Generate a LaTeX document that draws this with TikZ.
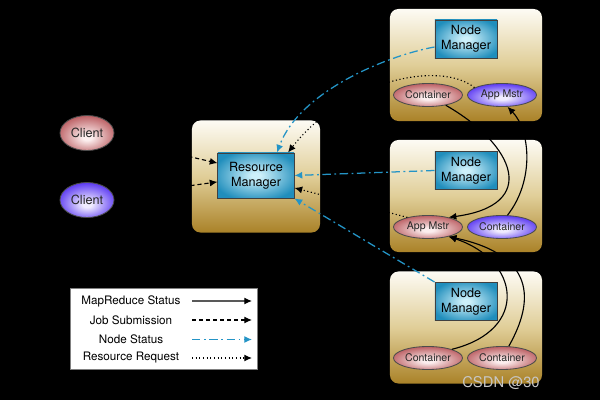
\documentclass[tikz,border=0pt]{standalone}
\usepackage{fontspec}
\setmainfont{TeX Gyre Heros}
\usetikzlibrary{shapes.geometric}
\usetikzlibrary{arrows.meta}

\definecolor{panelTop}{RGB}{253,251,244}
\definecolor{panelMid}{RGB}{224,206,152}
\definecolor{panelBot}{RGB}{170,130,40}
\definecolor{nmlight}{RGB}{205,240,250}
\definecolor{nmdark}{RGB}{32,142,188}
\definecolor{podred}{RGB}{188,96,100}
\definecolor{podredlight}{RGB}{252,238,238}
\definecolor{podviolet}{RGB}{92,58,242}
\definecolor{podvioletlight}{RGB}{240,236,255}
\definecolor{statusblue}{RGB}{36,148,198}

\pgfdeclareradialshading{nmshade}{\pgfpoint{0bp}{0bp}}{color(0bp)=(nmlight); color(3bp)=(nmlight); color(29bp)=(nmdark); color(50bp)=(nmdark)}
\pgfdeclareradialshading{redshade}{\pgfpoint{0bp}{-7bp}}{color(0bp)=(podredlight); color(4bp)=(podredlight); color(28bp)=(podred); color(50bp)=(podred)}
\pgfdeclareradialshading{violetshade}{\pgfpoint{0bp}{-7bp}}{color(0bp)=(podvioletlight); color(4bp)=(podvioletlight); color(28bp)=(podviolet); color(50bp)=(podviolet)}

\begin{document}
\begin{tikzpicture}[x=0.025cm, y=-0.025cm,
      bay/.style={rounded corners=6pt, minimum width=3.8cm, minimum height=2.8cm,
          top color=panelTop, bottom color=panelBot, middle color=panelMid},
      mgr/.style={draw=black!75, line width=0.7pt, shading=nmshade, align=center,
          minimum width=1.55cm, minimum height=0.95cm, inner sep=1pt,
          font=\fontsize{9}{10.5}\selectfont},
      pod/.style={ellipse, draw=black!70, line width=0.6pt, inner sep=0pt,
          minimum width=1.725cm, minimum height=0.575cm, text=black!85,
          font=\fontsize{7.5}{8}\selectfont},
      redpod/.style={pod, shading=redshade},
      violetpod/.style={pod, shading=violetshade},
      keytext/.style={font=\fontsize{8.3}{9}\selectfont},
      mrstat/.style={draw=black, line width=0.8pt, -{Latex[length=5.5pt,width=5pt,black]}},
      jobsub/.style={draw=black, line width=0.8pt, dash pattern=on 3pt off 2pt,
          -{Latex[length=5.5pt,width=5pt]}},
      nodestat/.style={draw=statusblue, line width=0.9pt,
          dash pattern=on 6pt off 2.5pt on 1.3pt off 2.5pt,
          -{Latex[length=5.5pt,width=5pt]}},
      resreq/.style={draw=black, line width=0.8pt, dash pattern=on 0.8pt off 1.8pt,
          -{Latex[length=5.5pt,width=5pt]}},
    ]
    \fill[black] (0,0) rectangle (600,400);

    \node[bay, minimum width=3.2cm] (rmbay) at (256,176.5) {};
    \node[bay] (bay1) at (466,65) {};
    \node[bay] (bay2) at (466,196) {};
    \node[bay] (bay3) at (466,327.5) {};

    \node[redpod, minimum width=1.35cm, minimum height=0.875cm,
        font=\fontsize{9}{10}\selectfont] (client1) at (87,133) {Client};
    \node[violetpod, minimum width=1.35cm, minimum height=0.875cm,
        font=\fontsize{9}{10}\selectfont] (client2) at (87,200) {Client};

    \node[mgr, minimum width=1.9cm, minimum height=1.125cm] (rm) at (256,175.5) {Resource\\Manager};

    \node[mgr] (nm1) at (466,39) {Node\\Manager};
    \node[redpod] (ct1) at (428,95) {Container};
    \node[violetpod] (am1) at (502,95) {App Mstr};

    \node[mgr] (nm2) at (466,170.5) {Node\\Manager};
    \node[redpod] (am2) at (428,227) {App Mstr};
    \node[violetpod] (ct2) at (502,227) {Container};

    \node[mgr] (nm3) at (466,301.5) {Node\\Manager};
    \node[redpod] (ct3a) at (428,358) {Container};
    \node[redpod] (ct3b) at (502,358) {Container};

    \draw[jobsub] (client1) -- ([yshift=0.31cm]rm.west);
    \draw[jobsub] (client2) -- ([yshift=-0.16cm]rm.west);

    \draw[nodestat] ([yshift=-0.2cm]nm1.west) .. controls (390,55) and (300,90) .. ([xshift=0.525cm]rm.north);
    \draw[nodestat] (nm2.west) -- (rm.east);
    \draw[nodestat] (nm3.north west) -- (rm.south east);

    \draw[resreq] (am1.165) .. controls (440,60) and (345,80) .. ([xshift=0.8cm]rm.north);
    \draw[resreq] (am2.155) -- ([yshift=-0.31cm]rm.east);

    \draw[mrstat] (ct1.-30) .. controls (515,145) and (540,205) .. (am2.25);
    \draw[mrstat] (ct2.65) .. controls (535,180) and (530,130) .. (am1.-65);
    \draw[mrstat] (ct3a.20) .. controls (530,330) and (520,260) .. (am2.-25);
    \draw[mrstat] (ct3b.60) .. controls (535,300) and (535,255) .. (am2.-25);

    \node[draw=black!50, fill=white, line width=0.6pt,
        minimum width=4.675cm, minimum height=2.025cm] (key) at (163.5,328.5) {};
    \node[keytext] (k1) at (131,301) {MapReduce Status};
    \node[keytext] (k2) at (131,320) {Job Submission};
    \node[keytext] (k3) at (131,339.5) {Node Status};
    \node[keytext] (k4) at (131,358) {Resource Request};
    \coordinate (k1a) at (192,301);
    \coordinate (k1b) at (252,301);
    \coordinate (k2a) at (192,320);
    \coordinate (k2b) at (252,320);
    \coordinate (k3a) at (192,339.5);
    \coordinate (k3b) at (252,339.5);
    \coordinate (k4a) at (192,358);
    \coordinate (k4b) at (252,358);
    \draw[mrstat, draw=black!65] (k1a) -- (k1b);
    \draw[jobsub] (k2a) -- (k2b);
    \draw[nodestat] (k3a) -- (k3b);
    \draw[resreq] (k4a) -- (k4b);

    \node[text=white!78!black, font=\fontsize{10.5}{12}\selectfont] (mark) at (501,383) {CSDN @30};
\end{tikzpicture}
\end{document}
